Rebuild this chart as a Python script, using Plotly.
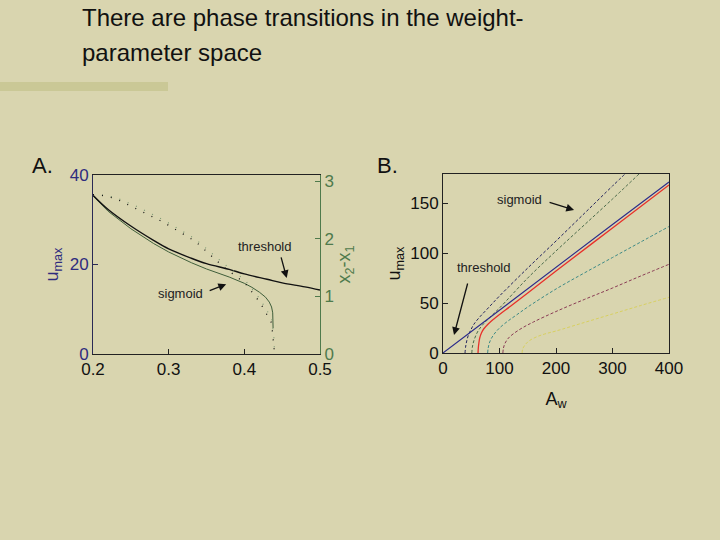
import plotly.graph_objects as go

W, H = 720, 540
BG = "#D9D5AF"

# ---------- Panel A data ----------
a_thr_x = [0.2, 0.22, 0.25, 0.28, 0.3, 0.33, 0.35, 0.38, 0.4, 0.43, 0.45, 0.48, 0.5]
a_thr_u = [35.5, 32.3, 28.6, 25.4, 23.5, 21.4, 20.2, 18.9, 17.9, 16.7, 15.9, 15.0, 14.3]

a_sig_x = [0.2, 0.22, 0.25, 0.28, 0.3, 0.33, 0.35, 0.38, 0.4, 0.41, 0.42, 0.428, 0.433, 0.436, 0.4375, 0.438, 0.438]
a_sig_u = [35.3, 31.9, 28.0, 24.7, 22.8, 20.4, 19.0, 17.2, 15.8, 14.9, 13.8, 12.7, 11.6, 10.5, 9.2, 7.5, 5.8]

a_gap_x = [0.2, 0.215, 0.23, 0.26, 0.293, 0.335, 0.372, 0.401, 0.421, 0.436, 0.439, 0.44]
a_gap_thr = [2.77, 2.75, 2.70, 2.51, 2.29, 1.96, 1.52, 1.23, 0.89, 0.54, 0.20, 0.0]
a_gap_sig = [2.77, 2.76, 2.72, 2.55, 2.33, 2.00, 1.58, 1.28, 0.95, 0.62, 0.30, 0.0]

# ---------- Panel B data ----------
b_thr_x = [0, 100, 200, 300, 400]
b_thr_u = [0, 43, 86, 128.5, 171]

b_red_x = [62, 62.5, 63.5, 65, 68, 72, 80, 90, 100, 120, 150, 200, 300, 400]
b_red_u = [0, 5, 10, 15, 20, 24, 29, 34, 38.5, 47, 60, 82, 125, 168]

b_s1_x = [39, 40, 42, 45, 50, 55, 65, 80, 100, 150, 200, 250, 300, 324]
b_s1_u = [0, 6, 12, 18, 24, 29, 36, 45, 57, 85, 112, 139.5, 167, 180]

b_s2_x = [51, 52, 54, 57, 62, 70, 80, 100, 150, 200, 250, 300, 347]
b_s2_u = [0, 6, 11, 16, 22, 28, 34, 45, 75, 102, 128, 154, 179]

b_s3_x = [79, 80, 82, 86, 92, 100, 115, 130, 150, 200, 250, 300, 350, 400]
b_s3_u = [0, 5, 10, 15, 20, 25, 32, 38, 46, 64, 80, 95.5, 111, 126.5]

b_s4_x = [106, 107, 110, 116, 124, 140, 160, 200, 250, 300, 350, 400]
b_s4_u = [0, 5, 10, 15, 19, 25, 31, 41.5, 53.5, 65, 77, 88.7]

b_s5_x = [140, 141, 145, 152, 165, 180, 200, 250, 300, 350, 400]
b_s5_u = [0, 4, 8, 12, 16, 19, 22, 30.5, 39, 47.5, 55.7]

a_xticks = [0.2, 0.3, 0.4, 0.5]
a_yticks = [0, 20, 40]
a_y2ticks = [0, 1, 2, 3]
b_xticks = [0, 100, 200, 300, 400]
b_yticks = [0, 50, 100, 150]

FONT = "Liberation Sans, Arial, sans-serif"
BLUE = "#2E2C7E"
GREEN = "#4F7A4C"

fig = go.Figure()

# Panel A
fig.add_trace(go.Scatter(x=a_gap_x, y=a_gap_sig, xaxis="x", yaxis="y2", mode="lines",
                         line=dict(color="#7E9A74", width=1.2, dash="1px,8px"), hoverinfo="skip"))
fig.add_trace(go.Scatter(x=a_gap_x, y=a_gap_thr, xaxis="x", yaxis="y2", mode="lines",
                         line=dict(color="#111111", width=1.3, dash="1px,8px"), hoverinfo="skip"))
fig.add_trace(go.Scatter(x=a_sig_x, y=a_sig_u, xaxis="x", yaxis="y", mode="lines",
                         line=dict(color="#3F5E3A", width=1), hoverinfo="skip"))
fig.add_trace(go.Scatter(x=a_thr_x, y=a_thr_u, xaxis="x", yaxis="y", mode="lines", line_shape="spline",
                         line=dict(color="#111111", width=1.4), hoverinfo="skip"))

# Panel B
dash = "3px,2px"
for xs, ys, c in [(b_s5_x, b_s5_u, "#D8D060"), (b_s4_x, b_s4_u, "#8A3C55"),
                  (b_s3_x, b_s3_u, "#3E8A86"), (b_s2_x, b_s2_u, "#4A6A4A"),
                  (b_s1_x, b_s1_u, "#24245E")]:
    fig.add_trace(go.Scatter(x=xs, y=ys, xaxis="x2", yaxis="y3", mode="lines", line_shape="spline",
                             line=dict(color=c, width=1, dash=dash), hoverinfo="skip"))
fig.add_trace(go.Scatter(x=b_red_x, y=b_red_u, xaxis="x2", yaxis="y3", mode="lines", line_shape="spline",
                         line=dict(color="#E8302A", width=1.3), hoverinfo="skip"))
fig.add_trace(go.Scatter(x=b_thr_x, y=b_thr_u, xaxis="x2", yaxis="y3", mode="lines",
                         line=dict(color="#2A2A8A", width=1.1), hoverinfo="skip"))

ax_common = dict(showline=True, linewidth=1, ticks="inside", ticklen=5, showgrid=False,
                 zeroline=False, fixedrange=True, automargin=False)

fig.update_layout(
    template="none",
    width=W, height=H, margin=dict(l=0, r=0, t=0, b=0, pad=0), autosize=False,
    paper_bgcolor=BG, plot_bgcolor=BG, showlegend=False,
    font=dict(family=FONT, color="#111111"),
    xaxis=dict(domain=[93 / W, 320 / W], range=[0.2, 0.5], tickvals=a_xticks,
               ticktext=["0.2", "0.3", "0.4", "0.5"], anchor="y", mirror=True,
               linecolor="#222222", tickcolor="#222222", tickfont=dict(size=17, color="#111111"),
               **ax_common),
    yaxis=dict(domain=[1 - 354 / H, 1 - 175 / H], range=[0, 40], tickvals=a_yticks, anchor="x",
               linecolor="#2A2A55", tickcolor="#2A2A55", tickfont=dict(size=17, color=BLUE),
               title=dict(text="u<sub>max</sub>", font=dict(size=18, color=BLUE), standoff=6),
               **ax_common),
    yaxis2=dict(range=[0, 3.11], tickvals=a_y2ticks, overlaying="y", side="right", anchor="x",
                linecolor=GREEN, tickcolor=GREEN, tickfont=dict(size=17, color=GREEN),
                title=dict(text="x<sub>2</sub>-x<sub>1</sub>", font=dict(size=18, color=GREEN), standoff=4),
                **ax_common),
    xaxis2=dict(domain=[443 / W, 669 / W], range=[0, 400], tickvals=b_xticks, anchor="y3", mirror=True,
                linecolor="#222222", tickcolor="#222222", tickfont=dict(size=17, color="#111111"),
                title=dict(text="A<sub>w</sub>", font=dict(size=18, color="#111111"), standoff=14),
                **ax_common),
    yaxis3=dict(domain=[1 - 353 / H, 1 - 174 / H], range=[0, 179], tickvals=b_yticks, anchor="x2",
                mirror=True, linecolor="#222222", tickcolor="#222222",
                tickfont=dict(size=17, color="#111111"),
                title=dict(text="u<sub>max</sub>", font=dict(size=18, color="#111111"), standoff=4),
                **ax_common),
)

# Title and decorative bar
fig.add_annotation(text="There are phase transitions in the weight-", xref="paper", yref="paper",
                   x=80 / W, y=1 - 18 / H, xanchor="left", yanchor="middle", showarrow=False,
                   font=dict(size=24, color="#111111", family=FONT))
fig.add_annotation(text="parameter space", xref="paper", yref="paper",
                   x=80 / W, y=1 - 52 / H, xanchor="left", yanchor="middle", showarrow=False,
                   font=dict(size=24, color="#111111", family=FONT))
fig.add_shape(type="rect", xref="paper", yref="paper", x0=0, x1=168 / W, y0=1 - 91 / H, y1=1 - 82 / H,
              fillcolor="#CAC896", line=dict(width=0), layer="below")

# Panel letters
fig.add_annotation(text="A.", xref="paper", yref="paper", x=30 / W, y=1 - 166 / H, xanchor="left",
                   yanchor="middle", showarrow=False, font=dict(size=22, color="#111111", family=FONT))
fig.add_annotation(text="B.", xref="paper", yref="paper", x=375 / W, y=1 - 166 / H, xanchor="left",
                   yanchor="middle", showarrow=False, font=dict(size=22, color="#111111", family=FONT))

# Panel A labels & arrows
lab = dict(size=13, color="#222222", family=FONT)
fig.add_annotation(text="threshold", x=0.427, y=24.1, xref="x", yref="y", showarrow=False, font=lab)
fig.add_annotation(text="", x=0.456, y=17.0, xref="x", yref="y", ax=-6, ay=-22, showarrow=True,
                   arrowhead=2, arrowsize=1.2, arrowwidth=1.3, arrowcolor="#111111")
fig.add_annotation(text="sigmoid", x=0.315, y=13.6, xref="x", yref="y", showarrow=False, font=lab)
fig.add_annotation(text="", x=0.376, y=15.6, xref="x", yref="y", ax=-18, ay=7, showarrow=True,
                   arrowhead=2, arrowsize=1.2, arrowwidth=1.3, arrowcolor="#111111")

# Panel B labels & arrows
fig.add_annotation(text="sigmoid", x=136, y=153, xref="x2", yref="y3", showarrow=False, font=lab)
fig.add_annotation(text="", x=232, y=143, xref="x2", yref="y3", ax=-26, ay=-8, showarrow=True,
                   arrowhead=2, arrowsize=1.2, arrowwidth=1.3, arrowcolor="#111111")
fig.add_annotation(text="threshold", x=71, y=86, xref="x2", yref="y3", showarrow=False, font=lab)
fig.add_annotation(text="", x=19.5, y=18, xref="x2", yref="y3", ax=14, ay=-53, showarrow=True,
                   arrowhead=2, arrowsize=1.2, arrowwidth=1.3, arrowcolor="#111111")

fig.write_html("out.html", config={"displayModeBar": False},
               post_script="document.body.style.margin='0';document.body.style.background='" + BG + "';")
